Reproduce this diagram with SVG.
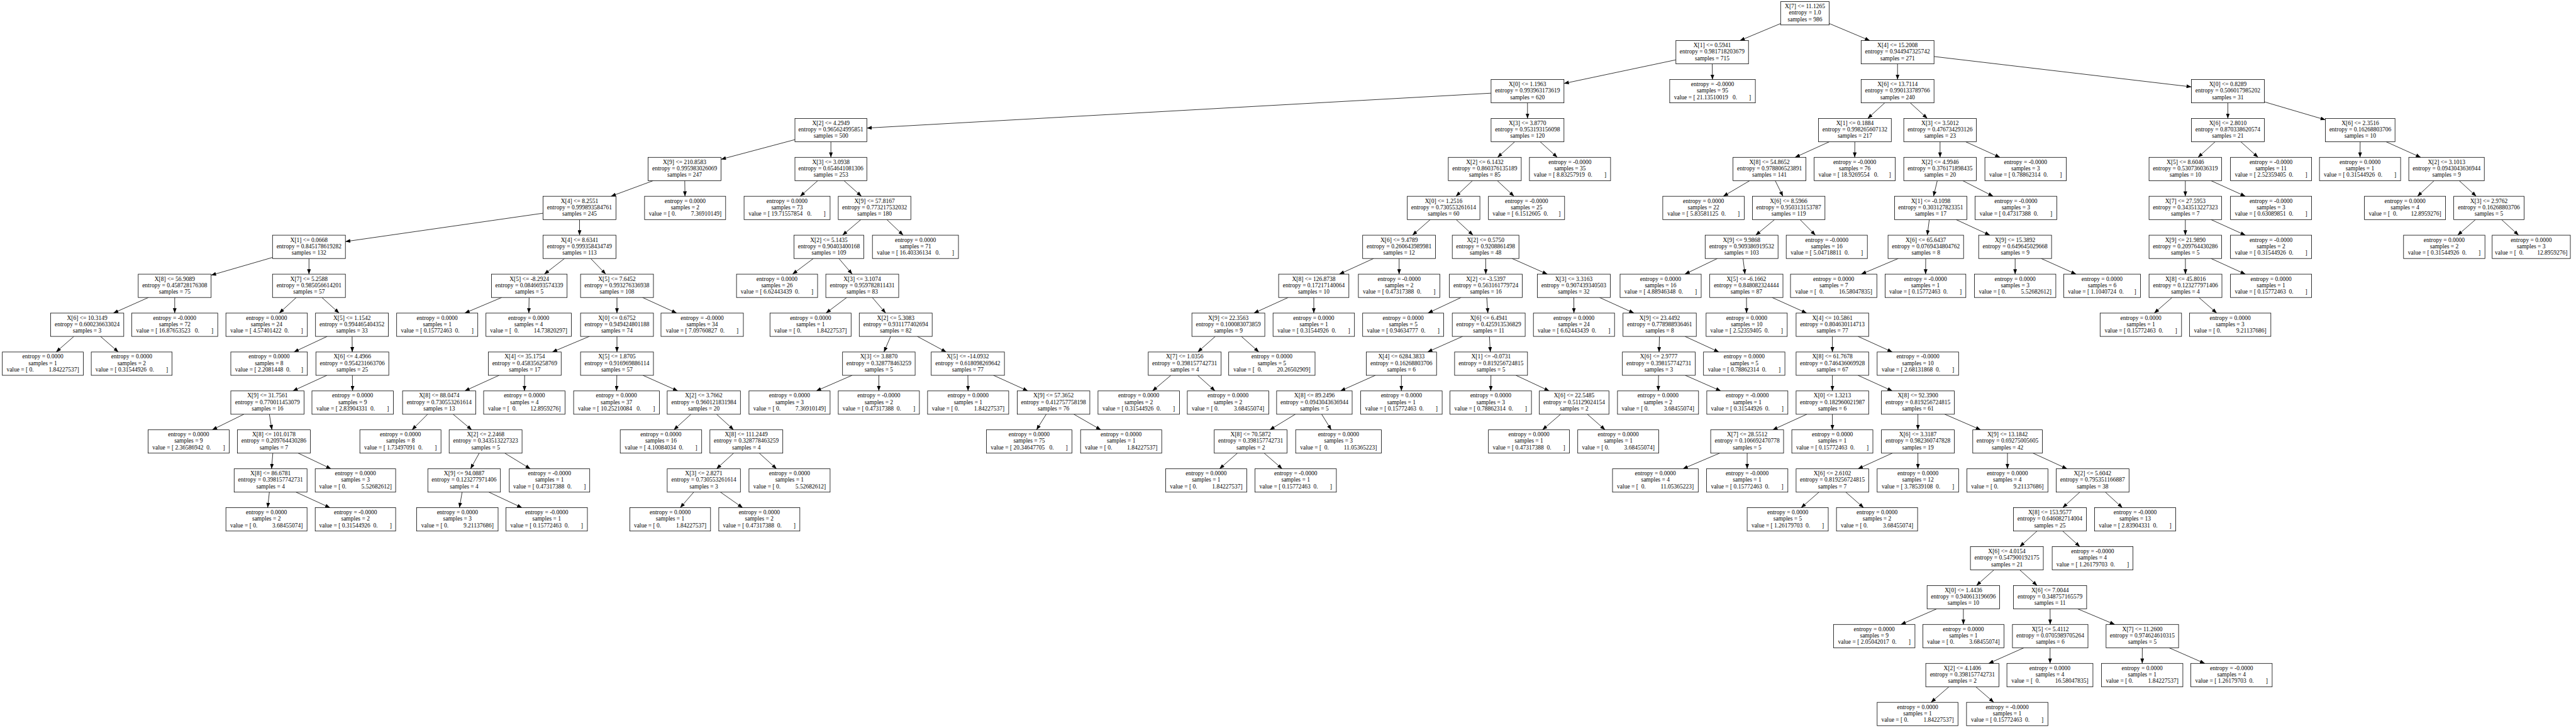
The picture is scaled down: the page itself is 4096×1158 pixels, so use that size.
<svg xmlns="http://www.w3.org/2000/svg" width="4096" height="1158" viewBox="0 0 4096 1158">
<style>
.n rect{fill:#fff;stroke:#000;stroke-width:0.8}
.n text{font-family:"Liberation Serif","Times New Roman",serif;font-size:9.5px;text-anchor:middle;white-space:pre;fill:#000}
#edges path{fill:none;stroke:#000;stroke-width:0.8;marker-end:url(#ah)}
</style>
<defs><marker id="ah" markerUnits="userSpaceOnUse" markerWidth="8" markerHeight="6" viewBox="0 0 7.8 6" refX="7.8" refY="3" orient="auto"><path d="M0,0L7.8,3L0,6z" fill="#000"/></marker></defs>
<rect width="4096" height="1158" fill="#fff"/>
<g id="edges">
<path d="M2831.4,37.4L2766.6,64.5"/><path d="M2908.6,37.4L2973.1,64.5"/>
<path d="M2664.8,95.2L2486.8,132.8"/><path d="M2722.6,101.6L2722.9,126.5"/><path d="M3017.2,101.6L3017.2,126.5"/><path d="M3075.2,89.9L3484.5,138.2"/>
<path d="M2370.9,148.2L1378.3,203.7"/><path d="M2428.8,163.6L2428.8,188.4"/><path d="M2996.9,163.6L2969.7,188.4"/><path d="M3037.4,163.6L3064.6,188.4"/><path d="M3542.4,163.6L3542.4,188.4"/><path d="M3600.4,162.0L3697.5,190.6"/>
<path d="M1264.0,222.1L1146.5,253.4"/><path d="M1321.2,225.5L1321.2,250.3"/><path d="M2408.5,225.5L2381.2,250.3"/><path d="M2449.0,225.5L2476.2,250.3"/><path d="M2908.8,225.5L2854.2,250.3"/><path d="M2949.3,225.5L2949.1,250.3"/><path d="M3084.8,225.5L3084.8,250.3"/><path d="M3125.5,225.5L3180.1,250.3"/><path d="M3522.2,225.5L3495.0,250.3"/><path d="M3563.0,225.5L3590.5,250.3"/><path d="M3752.8,225.5L3752.6,250.3"/><path d="M3794.0,225.5L3849.1,250.3"/>
<path d="M1038.6,287.4L971.5,312.2"/><path d="M1088.8,287.4L1089.2,312.2"/><path d="M1300.3,287.4L1272.4,312.2"/><path d="M1342.0,287.4L1369.8,312.2"/><path d="M2341.3,287.4L2315.0,312.2"/><path d="M2380.8,287.4L2407.4,312.2"/><path d="M2782.2,287.4L2740.1,312.2"/><path d="M2822.7,287.4L2835.0,312.2"/><path d="M3080.4,287.4L3074.4,312.2"/><path d="M3120.9,287.4L3169.3,312.2"/><path d="M3474.8,287.4L3474.8,312.2"/><path d="M3515.6,287.4L3570.3,312.2"/><path d="M3870.4,287.4L3843.9,312.2"/><path d="M3910.3,287.4L3937.4,312.2"/>
<path d="M863.6,339.1L549.2,384.3"/><path d="M921.5,349.3L921.5,374.1"/><path d="M1368.9,349.3L1339.7,374.1"/><path d="M1410.1,349.3L1436.1,374.1"/><path d="M2274.2,349.3L2245.9,374.1"/><path d="M2315.4,349.3L2342.2,374.1"/><path d="M2821.7,349.3L2791.7,374.1"/><path d="M2862.2,349.3L2886.6,374.1"/><path d="M3067.7,349.3L3064.5,374.1"/><path d="M3110.2,349.3L3164.0,374.1"/><path d="M3474.8,349.3L3474.8,374.1"/><path d="M3515.6,349.3L3570.3,374.1"/><path d="M3936.2,349.3L3907.8,374.1"/><path d="M3977.6,349.3L4004.7,374.1"/>
<path d="M433.3,409.5L335.7,437.8"/><path d="M491.3,411.2L491.3,436.1"/><path d="M897.6,411.2L865.5,436.1"/><path d="M939.3,411.2L963.2,436.1"/><path d="M1293.3,411.2L1260.2,436.1"/><path d="M1333.9,411.2L1355.1,436.1"/><path d="M2184.1,411.2L2129.6,436.1"/><path d="M2224.7,411.2L2224.7,436.1"/><path d="M2362.3,411.2L2362.5,436.1"/><path d="M2404.2,411.2L2460.4,436.1"/><path d="M2730.8,411.2L2679.0,436.1"/><path d="M2771.5,411.2L2774.6,436.1"/><path d="M3018.4,411.2L2959.5,436.1"/><path d="M3062.0,411.2L3061.8,436.1"/><path d="M3204.2,411.2L3204.2,436.1"/><path d="M3245.6,411.2L3301.1,436.1"/><path d="M3474.9,411.2L3475.0,436.1"/><path d="M3515.6,411.2L3570.3,436.1"/>
<path d="M236.1,473.2L180.3,498.0"/><path d="M277.8,473.2L277.8,498.0"/><path d="M471.1,473.2L444.1,498.0"/><path d="M511.8,473.2L539.2,498.0"/><path d="M797.8,473.2L739.0,498.0"/><path d="M841.3,473.2L840.9,498.0"/><path d="M981.0,473.2L981.0,498.0"/><path d="M1021.6,473.2L1075.9,498.0"/><path d="M1346.4,473.2L1313.4,498.0"/><path d="M1387.0,473.2L1408.3,498.0"/><path d="M2048.4,473.2L1993.8,498.0"/><path d="M2089.0,473.2L2089.0,498.0"/><path d="M2323.3,473.2L2270.5,498.0"/><path d="M2364.0,473.2L2365.8,498.0"/><path d="M2502.5,473.2L2502.6,498.0"/><path d="M2543.3,473.2L2598.1,498.0"/><path d="M2777.0,473.2L2777.2,498.0"/><path d="M2817.7,473.2L2872.7,498.0"/><path d="M3453.8,473.2L3425.4,498.0"/><path d="M3496.4,473.2L3524.8,498.0"/>
<path d="M117.5,535.1L89.2,559.9"/><path d="M159.8,535.1L188.2,559.9"/><path d="M520.3,535.1L467.3,559.9"/><path d="M559.9,535.1L560.1,559.9"/><path d="M937.1,535.1L878.2,559.9"/><path d="M981.0,535.1L981.0,559.9"/><path d="M1416.2,535.1L1405.5,559.9"/><path d="M1458.6,535.1L1504.6,559.9"/><path d="M1932.4,535.1L1904.5,559.9"/><path d="M1973.9,535.1L2001.7,559.9"/><path d="M2325.6,535.1L2269.9,559.9"/><path d="M2368.3,535.1L2369.7,559.9"/><path d="M2638.6,535.1L2638.0,559.9"/><path d="M2679.2,535.1L2733.2,559.9"/><path d="M2913.6,535.1L2913.6,559.9"/><path d="M2954.3,535.1L3008.9,559.9"/>
<path d="M519.8,597.0L465.7,621.8"/><path d="M560.3,597.0L560.6,621.8"/><path d="M793.6,597.0L739.0,621.8"/><path d="M834.2,597.0L833.9,621.8"/><path d="M980.8,597.0L980.4,621.8"/><path d="M1022.3,597.0L1077.8,621.8"/><path d="M1354.9,597.0L1297.9,621.8"/><path d="M1397.4,597.0L1397.4,621.8"/><path d="M1539.0,597.0L1539.3,621.8"/><path d="M1579.7,597.0L1634.4,621.8"/><path d="M1861.8,597.0L1832.5,621.8"/><path d="M1904.3,597.0L1932.0,621.8"/><path d="M2186.9,597.0L2131.4,621.8"/><path d="M2228.3,597.0L2228.3,621.8"/><path d="M2370.7,597.0L2370.4,621.8"/><path d="M2410.4,597.0L2463.4,621.8"/><path d="M2637.2,597.0L2636.7,621.8"/><path d="M2679.7,597.0L2736.2,621.8"/><path d="M2913.6,597.0L2913.6,621.8"/><path d="M2954.3,597.0L3008.9,621.8"/>
<path d="M387.8,658.9L337.4,683.7"/><path d="M428.3,658.9L432.4,683.7"/><path d="M679.9,658.9L655.1,683.7"/><path d="M720.4,658.9L750.1,683.7"/><path d="M1098.7,658.9L1071.4,683.7"/><path d="M1139.3,658.9L1166.5,683.7"/><path d="M1663.6,658.9L1648.1,683.7"/><path d="M1707.4,658.9L1750.5,683.7"/><path d="M2059.7,658.9L2019.0,683.7"/><path d="M2101.5,658.9L2116.8,683.7"/><path d="M2481.5,658.9L2452.6,683.7"/><path d="M2524.0,658.9L2552.2,683.7"/><path d="M2873.0,658.9L2818.7,683.7"/><path d="M2913.6,658.9L2913.6,683.7"/><path d="M3049.6,658.9L3049.6,683.7"/><path d="M3092.2,658.9L3149.5,683.7"/>
<path d="M433.8,720.8L431.8,745.7"/><path d="M474.2,720.8L526.4,745.7"/><path d="M762.0,720.8L748.2,745.7"/><path d="M802.6,720.8L843.3,745.7"/><path d="M1166.5,720.8L1139.3,745.7"/><path d="M1207.3,720.8L1234.8,745.7"/><path d="M1967.5,720.8L1939.1,745.7"/><path d="M2010.1,720.8L2038.8,745.7"/><path d="M2734.4,720.8L2675.9,745.7"/><path d="M2778.1,720.8L2778.1,745.7"/><path d="M3008.9,720.8L2954.3,745.7"/><path d="M3049.6,720.8L3049.6,745.7"/><path d="M3192.0,720.8L3191.9,745.7"/><path d="M3232.6,720.8L3286.8,745.7"/>
<path d="M428.3,782.8L425.6,807.6"/><path d="M470.6,782.8L524.8,807.6"/><path d="M734.8,782.8L730.5,807.6"/><path d="M777.3,782.8L830.0,807.6"/><path d="M1103.1,782.8L1081.6,807.6"/><path d="M1145.5,782.8L1180.9,807.6"/><path d="M2892.3,782.8L2863.9,807.6"/><path d="M2934.9,782.8L2963.3,807.6"/><path d="M3307.0,782.8L3279.8,807.6"/><path d="M3347.6,782.8L3374.7,807.6"/>
<path d="M3239.0,844.7L3211.6,869.5"/><path d="M3279.8,844.7L3307.1,869.5"/>
<path d="M3170.4,906.6L3142.6,931.4"/><path d="M3211.6,906.6L3239.2,931.4"/>
<path d="M3079.5,968.5L3022.6,993.3"/><path d="M3121.9,968.5L3121.9,993.3"/><path d="M3259.8,968.5L3259.9,993.3"/><path d="M3303.6,968.5L3362.6,993.3"/>
<path d="M3218.2,1030.4L3162.1,1055.3"/><path d="M3259.8,1030.4L3259.7,1055.3"/><path d="M3406.4,1030.4L3406.3,1055.3"/><path d="M3448.9,1030.4L3505.8,1055.3"/>
<path d="M3099.0,1092.4L3070.4,1117.2"/><path d="M3141.6,1092.4L3170.3,1117.2"/>
</g>
<g id="nodes" class="n">
<g id="A"><rect x="2831.3" y="2.6" width="77.3" height="37.1"/><text x="2870" y="13.1">X[7] &lt;= 11.1265<tspan x="2870" dy="10.25">entropy = 1.0</tspan><tspan x="2870" dy="10.25">samples = 986</tspan></text></g>
<g id="B"><rect x="2664.8" y="64.5" width="115.4" height="37.1"/><text x="2722.5" y="75">X[1] &lt;= 0.5941<tspan x="2722.5" dy="10.25">entropy = 0.981718203679</tspan><tspan x="2722.5" dy="10.25">samples = 715</tspan></text></g>
<g id="C"><rect x="2959.3" y="64.5" width="115.9" height="37.1"/><text x="3017.2" y="75">X[4] &lt;= 15.2008<tspan x="3017.2" dy="10.25">entropy = 0.944947325742</tspan><tspan x="3017.2" dy="10.25">samples = 271</tspan></text></g>
<g id="D"><rect x="2370.9" y="126.5" width="115.9" height="37.1"/><text x="2428.8" y="137">X[0] &lt;= 1.1963<tspan x="2428.8" dy="10.25">entropy = 0.993963173619</tspan><tspan x="2428.8" dy="10.25">samples = 620</tspan></text></g>
<g id="E"><rect x="2654.9" y="126.5" width="136.2" height="37.1"/><text x="2723" y="137">entropy = -0.0000<tspan x="2723" dy="10.25">samples = 95</tspan><tspan x="2723" dy="10.25">value = [ 21.13510019   0.        ]</tspan></text></g>
<g id="F"><rect x="2959.3" y="126.5" width="115.9" height="37.1"/><text x="3017.2" y="137">X[6] &lt;= 13.7114<tspan x="3017.2" dy="10.25">entropy = 0.990133789766</tspan><tspan x="3017.2" dy="10.25">samples = 240</tspan></text></g>
<g id="G"><rect x="3484.5" y="126.5" width="115.9" height="37.1"/><text x="3542.4" y="137">X[0] &lt;= 0.8289<tspan x="3542.4" dy="10.25">entropy = 0.506017985202</tspan><tspan x="3542.4" dy="10.25">samples = 31</tspan></text></g>
<g id="H"><rect x="1264" y="188.4" width="114.3" height="37.1"/><text x="1321.2" y="198.9">X[2] &lt;= 4.2949<tspan x="1321.2" dy="10.25">entropy = 0.965624995851</tspan><tspan x="1321.2" dy="10.25">samples = 500</tspan></text></g>
<g id="I"><rect x="2370.9" y="188.4" width="115.9" height="37.1"/><text x="2428.8" y="198.9">X[3] &lt;= 3.8770<tspan x="2428.8" dy="10.25">entropy = 0.953193156098</tspan><tspan x="2428.8" dy="10.25">samples = 120</tspan></text></g>
<g id="J"><rect x="2891.4" y="188.4" width="115.9" height="37.1"/><text x="2949.4" y="198.9">X[1] &lt;= 0.1884<tspan x="2949.4" dy="10.25">entropy = 0.998265607132</tspan><tspan x="2949.4" dy="10.25">samples = 217</tspan></text></g>
<g id="K"><rect x="3027.1" y="188.4" width="115.4" height="37.1"/><text x="3084.8" y="198.9">X[3] &lt;= 3.5012<tspan x="3084.8" dy="10.25">entropy = 0.476734293126</tspan><tspan x="3084.8" dy="10.25">samples = 23</tspan></text></g>
<g id="L"><rect x="3484.5" y="188.4" width="115.9" height="37.1"/><text x="3542.4" y="198.9">X[6] &lt;= 2.8010<tspan x="3542.4" dy="10.25">entropy = 0.870338620574</tspan><tspan x="3542.4" dy="10.25">samples = 21</tspan></text></g>
<g id="M"><rect x="3697.5" y="188.4" width="110.7" height="37.1"/><text x="3752.9" y="198.9">X[6] &lt;= 2.3516<tspan x="3752.9" dy="10.25">entropy = 0.16268803706</tspan><tspan x="3752.9" dy="10.25">samples = 10</tspan></text></g>
<g id="N"><rect x="1030.6" y="250.3" width="115.9" height="37.1"/><text x="1088.6" y="260.8">X[9] &lt;= 210.8583<tspan x="1088.6" dy="10.25">entropy = 0.995983026069</tspan><tspan x="1088.6" dy="10.25">samples = 247</tspan></text></g>
<g id="O"><rect x="1264" y="250.3" width="114.3" height="37.1"/><text x="1321.2" y="260.8">X[3] &lt;= 3.0938<tspan x="1321.2" dy="10.25">entropy = 0.654641081306</tspan><tspan x="1321.2" dy="10.25">samples = 253</tspan></text></g>
<g id="P"><rect x="2302.9" y="250.3" width="116" height="37.1"/><text x="2360.9" y="260.8">X[2] &lt;= 6.1432<tspan x="2360.9" dy="10.25">entropy = 0.860376135189</tspan><tspan x="2360.9" dy="10.25">samples = 85</tspan></text></g>
<g id="Q"><rect x="2431.9" y="250.3" width="129" height="37.1"/><text x="2496.4" y="260.8">entropy = -0.0000<tspan x="2496.4" dy="10.25">samples = 35</tspan><tspan x="2496.4" dy="10.25">value = [ 8.83257919  0.        ]</tspan></text></g>
<g id="R"><rect x="2755.6" y="250.3" width="116" height="37.1"/><text x="2813.6" y="260.8">X[8] &lt;= 54.8652<tspan x="2813.6" dy="10.25">entropy = 0.978806523891</tspan><tspan x="2813.6" dy="10.25">samples = 141</tspan></text></g>
<g id="S"><rect x="2884.6" y="250.3" width="129" height="37.1"/><text x="2949.1" y="260.8">entropy = -0.0000<tspan x="2949.1" dy="10.25">samples = 76</tspan><tspan x="2949.1" dy="10.25">value = [ 18.9269554   0.       ]</tspan></text></g>
<g id="T"><rect x="3027.1" y="250.3" width="115.4" height="37.1"/><text x="3084.8" y="260.8">X[2] &lt;= 4.9946<tspan x="3084.8" dy="10.25">entropy = 0.376171898435</tspan><tspan x="3084.8" dy="10.25">samples = 20</tspan></text></g>
<g id="U"><rect x="3156.1" y="250.3" width="129.5" height="37.1"/><text x="3220.8" y="260.8">entropy = -0.0000<tspan x="3220.8" dy="10.25">samples = 3</tspan><tspan x="3220.8" dy="10.25">value = [ 0.78862314  0.        ]</tspan></text></g>
<g id="V"><rect x="3417.1" y="250.3" width="115.4" height="37.1"/><text x="3474.8" y="260.8">X[5] &lt;= 8.6046<tspan x="3474.8" dy="10.25">entropy = 0.530736036319</tspan><tspan x="3474.8" dy="10.25">samples = 10</tspan></text></g>
<g id="W"><rect x="3546.6" y="250.3" width="129" height="37.1"/><text x="3611.1" y="260.8">entropy = -0.0000<tspan x="3611.1" dy="10.25">samples = 11</tspan><tspan x="3611.1" dy="10.25">value = [ 2.52359405  0.        ]</tspan></text></g>
<g id="X"><rect x="3688.1" y="250.3" width="129" height="37.1"/><text x="3752.6" y="260.8">entropy = 0.0000<tspan x="3752.6" dy="10.25">samples = 1</tspan><tspan x="3752.6" dy="10.25">value = [ 0.31544926  0.        ]</tspan></text></g>
<g id="Y"><rect x="3830.1" y="250.3" width="120.1" height="37.1"/><text x="3890.2" y="260.8">X[2] &lt;= 3.1013<tspan x="3890.2" dy="10.25">entropy = 0.0943043636944</tspan><tspan x="3890.2" dy="10.25">samples = 9</tspan></text></g>
<g id="Z"><rect x="863.6" y="312.2" width="115.9" height="37.1"/><text x="921.5" y="322.7">X[4] &lt;= 8.2551<tspan x="921.5" dy="10.25">entropy = 0.999893584761</tspan><tspan x="921.5" dy="10.25">samples = 245</tspan></text></g>
<g id="AA"><rect x="1024.9" y="312.2" width="128.9" height="37.1"/><text x="1089.4" y="322.7">entropy = 0.0000<tspan x="1089.4" dy="10.25">samples = 2</tspan><tspan x="1089.4" dy="10.25">value = [ 0.          7.36910149]</tspan></text></g>
<g id="AB"><rect x="1183.1" y="312.2" width="136.8" height="37.1"/><text x="1251.5" y="322.7">entropy = 0.0000<tspan x="1251.5" dy="10.25">samples = 73</tspan><tspan x="1251.5" dy="10.25">value = [ 19.71557854   0.        ]</tspan></text></g>
<g id="AC"><rect x="1332.9" y="312.2" width="115.4" height="37.1"/><text x="1390.6" y="322.7">X[9] &lt;= 57.8167<tspan x="1390.6" dy="10.25">entropy = 0.773217532032</tspan><tspan x="1390.6" dy="10.25">samples = 180</tspan></text></g>
<g id="AD"><rect x="2237.7" y="312.2" width="115.4" height="37.1"/><text x="2295.4" y="322.7">X[0] &lt;= 1.2516<tspan x="2295.4" dy="10.25">entropy = 0.730553261614</tspan><tspan x="2295.4" dy="10.25">samples = 60</tspan></text></g>
<g id="AE"><rect x="2366.7" y="312.2" width="121.1" height="37.1"/><text x="2427.3" y="322.7">entropy = -0.0000<tspan x="2427.3" dy="10.25">samples = 25</tspan><tspan x="2427.3" dy="10.25">value = [ 6.1512605  0.       ]</tspan></text></g>
<g id="AF"><rect x="2643.9" y="312.2" width="129.5" height="37.1"/><text x="2708.7" y="322.7">entropy = 0.0000<tspan x="2708.7" dy="10.25">samples = 22</tspan><tspan x="2708.7" dy="10.25">value = [ 5.83581125  0.        ]</tspan></text></g>
<g id="AG"><rect x="2786.4" y="312.2" width="115.4" height="37.1"/><text x="2844.1" y="322.7">X[6] &lt;= 8.5966<tspan x="2844.1" dy="10.25">entropy = 0.950313153787</tspan><tspan x="2844.1" dy="10.25">samples = 119</tspan></text></g>
<g id="AH"><rect x="3012.5" y="312.2" width="114.9" height="37.1"/><text x="3070" y="322.7">X[1] &lt;= -0.1098<tspan x="3070" dy="10.25">entropy = 0.303127823351</tspan><tspan x="3070" dy="10.25">samples = 17</tspan></text></g>
<g id="AI"><rect x="3140.4" y="312.2" width="130" height="37.1"/><text x="3205.4" y="322.7">entropy = -0.0000<tspan x="3205.4" dy="10.25">samples = 3</tspan><tspan x="3205.4" dy="10.25">value = [ 0.47317388  0.        ]</tspan></text></g>
<g id="AJ"><rect x="3417.1" y="312.2" width="115.4" height="37.1"/><text x="3474.8" y="322.7">X[7] &lt;= 27.5953<tspan x="3474.8" dy="10.25">entropy = 0.343513227323</tspan><tspan x="3474.8" dy="10.25">samples = 7</tspan></text></g>
<g id="AK"><rect x="3546.6" y="312.2" width="129" height="37.1"/><text x="3611.1" y="322.7">entropy = -0.0000<tspan x="3611.1" dy="10.25">samples = 3</tspan><tspan x="3611.1" dy="10.25">value = [ 0.63089851  0.        ]</tspan></text></g>
<g id="AL"><rect x="3759.6" y="312.2" width="129" height="37.1"/><text x="3824.1" y="322.7">entropy = 0.0000<tspan x="3824.1" dy="10.25">samples = 4</tspan><tspan x="3824.1" dy="10.25">value = [  0.         12.8959276]</tspan></text></g>
<g id="AM"><rect x="3901.6" y="312.2" width="111.8" height="37.1"/><text x="3957.5" y="322.7">X[3] &lt;= 2.9762<tspan x="3957.5" dy="10.25">entropy = 0.16268803706</tspan><tspan x="3957.5" dy="10.25">samples = 5</tspan></text></g>
<g id="AN"><rect x="433.3" y="374.1" width="115.9" height="37.1"/><text x="491.3" y="384.6">X[1] &lt;= 0.0668<tspan x="491.3" dy="10.25">entropy = 0.845178619282</tspan><tspan x="491.3" dy="10.25">samples = 132</tspan></text></g>
<g id="AO"><rect x="863.6" y="374.1" width="115.9" height="37.1"/><text x="921.5" y="384.6">X[4] &lt;= 8.6341<tspan x="921.5" dy="10.25">entropy = 0.999358434749</tspan><tspan x="921.5" dy="10.25">samples = 113</tspan></text></g>
<g id="AP"><rect x="1262.4" y="374.1" width="111.2" height="37.1"/><text x="1318" y="384.6">X[2] &lt;= 5.1435<tspan x="1318" dy="10.25">entropy = 0.90403400168</tspan><tspan x="1318" dy="10.25">samples = 109</tspan></text></g>
<g id="AQ"><rect x="1387.2" y="374.1" width="136.8" height="37.1"/><text x="1455.6" y="384.6">entropy = 0.0000<tspan x="1455.6" dy="10.25">samples = 71</tspan><tspan x="1455.6" dy="10.25">value = [ 16.40336134   0.        ]</tspan></text></g>
<g id="AR"><rect x="2166.7" y="374.1" width="115.9" height="37.1"/><text x="2224.7" y="384.6">X[6] &lt;= 9.4789<tspan x="2224.7" dy="10.25">entropy = 0.260643989981</tspan><tspan x="2224.7" dy="10.25">samples = 12</tspan></text></g>
<g id="AS"><rect x="2309.2" y="374.1" width="106" height="37.1"/><text x="2362.2" y="384.6">X[2] &lt;= 0.5750<tspan x="2362.2" dy="10.25">entropy = 0.9208861498</tspan><tspan x="2362.2" dy="10.25">samples = 48</tspan></text></g>
<g id="AT"><rect x="2711.3" y="374.1" width="115.9" height="37.1"/><text x="2769.3" y="384.6">X[9] &lt;= 9.9868<tspan x="2769.3" dy="10.25">entropy = 0.909386919532</tspan><tspan x="2769.3" dy="10.25">samples = 103</tspan></text></g>
<g id="AU"><rect x="2840.2" y="374.1" width="129" height="37.1"/><text x="2904.7" y="384.6">entropy = -0.0000<tspan x="2904.7" dy="10.25">samples = 16</tspan><tspan x="2904.7" dy="10.25">value = [ 5.04718811  0.        ]</tspan></text></g>
<g id="AV"><rect x="3002.1" y="374.1" width="120.1" height="37.1"/><text x="3062.2" y="384.6">X[6] &lt;= 65.6437<tspan x="3062.2" dy="10.25">entropy = 0.0769434804762</tspan><tspan x="3062.2" dy="10.25">samples = 8</tspan></text></g>
<g id="AW"><rect x="3146.2" y="374.1" width="115.9" height="37.1"/><text x="3204.2" y="384.6">X[9] &lt;= 15.3892<tspan x="3204.2" dy="10.25">entropy = 0.649645029668</tspan><tspan x="3204.2" dy="10.25">samples = 9</tspan></text></g>
<g id="AX"><rect x="3417.1" y="374.1" width="115.4" height="37.1"/><text x="3474.8" y="384.6">X[9] &lt;= 21.9890<tspan x="3474.8" dy="10.25">entropy = 0.209764430286</tspan><tspan x="3474.8" dy="10.25">samples = 5</tspan></text></g>
<g id="AY"><rect x="3546.6" y="374.1" width="129" height="37.1"/><text x="3611.1" y="384.6">entropy = -0.0000<tspan x="3611.1" dy="10.25">samples = 2</tspan><tspan x="3611.1" dy="10.25">value = [ 0.31544926  0.        ]</tspan></text></g>
<g id="AZ"><rect x="3821.8" y="374.1" width="129.4" height="37.1"/><text x="3886.5" y="384.6">entropy = 0.0000<tspan x="3886.5" dy="10.25">samples = 2</tspan><tspan x="3886.5" dy="10.25">value = [ 0.31544926  0.        ]</tspan></text></g>
<g id="BA"><rect x="3962.7" y="374.1" width="124.3" height="37.1"/><text x="4024.8" y="384.6">entropy = 0.0000<tspan x="4024.8" dy="10.25">samples = 3</tspan><tspan x="4024.8" dy="10.25">value = [  0.         12.8959276]</tspan></text></g>
<g id="BB"><rect x="219.8" y="436.1" width="115.9" height="37.1"/><text x="277.8" y="446.6">X[8] &lt;= 56.9089<tspan x="277.8" dy="10.25">entropy = 0.458728176308</tspan><tspan x="277.8" dy="10.25">samples = 75</tspan></text></g>
<g id="BC"><rect x="433.3" y="436.1" width="115.9" height="37.1"/><text x="491.3" y="446.6">X[7] &lt;= 5.2588<tspan x="491.3" dy="10.25">entropy = 0.985056614201</tspan><tspan x="491.3" dy="10.25">samples = 57</tspan></text></g>
<g id="BD"><rect x="781.6" y="436.1" width="120.1" height="37.1"/><text x="841.6" y="446.6">X[5] &lt;= -8.2924<tspan x="841.6" dy="10.25">entropy = 0.0846693574339</tspan><tspan x="841.6" dy="10.25">samples = 5</tspan></text></g>
<g id="BE"><rect x="923.1" y="436.1" width="115.9" height="37.1"/><text x="981" y="446.6">X[5] &lt;= 7.6452<tspan x="981" dy="10.25">entropy = 0.993276336938</tspan><tspan x="981" dy="10.25">samples = 108</tspan></text></g>
<g id="BF"><rect x="1171.1" y="436.1" width="128.9" height="37.1"/><text x="1235.5" y="446.6">entropy = 0.0000<tspan x="1235.5" dy="10.25">samples = 26</tspan><tspan x="1235.5" dy="10.25">value = [ 6.62443439  0.        ]</tspan></text></g>
<g id="BG"><rect x="1313.1" y="436.1" width="115.9" height="37.1"/><text x="1371" y="446.6">X[3] &lt;= 3.1074<tspan x="1371" dy="10.25">entropy = 0.959782811431</tspan><tspan x="1371" dy="10.25">samples = 83</tspan></text></g>
<g id="BH"><rect x="2033.1" y="436.1" width="111.7" height="37.1"/><text x="2089" y="446.6">X[8] &lt;= 126.8738<tspan x="2089" dy="10.25">entropy = 0.17217140064</tspan><tspan x="2089" dy="10.25">samples = 10</tspan></text></g>
<g id="BI"><rect x="2159.9" y="436.1" width="129.5" height="37.1"/><text x="2224.7" y="446.6">entropy = -0.0000<tspan x="2224.7" dy="10.25">samples = 2</tspan><tspan x="2224.7" dy="10.25">value = [ 0.47317388  0.        ]</tspan></text></g>
<g id="BJ"><rect x="2304.6" y="436.1" width="115.9" height="37.1"/><text x="2362.6" y="446.6">X[2] &lt;= -3.5397<tspan x="2362.6" dy="10.25">entropy = 0.563161779724</tspan><tspan x="2362.6" dy="10.25">samples = 16</tspan></text></g>
<g id="BK"><rect x="2444.5" y="436.1" width="115.9" height="37.1"/><text x="2502.4" y="446.6">X[3] &lt;= 3.3163<tspan x="2502.4" dy="10.25">entropy = 0.907439340503</tspan><tspan x="2502.4" dy="10.25">samples = 32</tspan></text></g>
<g id="BL"><rect x="2576" y="436.1" width="129" height="37.1"/><text x="2640.5" y="446.6">entropy = 0.0000<tspan x="2640.5" dy="10.25">samples = 16</tspan><tspan x="2640.5" dy="10.25">value = [ 4.88946348  0.        ]</tspan></text></g>
<g id="BM"><rect x="2718.6" y="436.1" width="116.4" height="37.1"/><text x="2776.8" y="446.6">X[5] &lt;= -6.1662<tspan x="2776.8" dy="10.25">entropy = 0.848082324444</tspan><tspan x="2776.8" dy="10.25">samples = 87</tspan></text></g>
<g id="BN"><rect x="2847" y="436.1" width="137.3" height="37.1"/><text x="2915.7" y="446.6">entropy = 0.0000<tspan x="2915.7" dy="10.25">samples = 7</tspan><tspan x="2915.7" dy="10.25">value = [  0.          16.58047835]</tspan></text></g>
<g id="BO"><rect x="2997.4" y="436.1" width="128.4" height="37.1"/><text x="3061.6" y="446.6">entropy = -0.0000<tspan x="3061.6" dy="10.25">samples = 1</tspan><tspan x="3061.6" dy="10.25">value = [ 0.15772463  0.        ]</tspan></text></g>
<g id="BP"><rect x="3139.4" y="436.1" width="129.5" height="37.1"/><text x="3204.2" y="446.6">entropy = 0.0000<tspan x="3204.2" dy="10.25">samples = 3</tspan><tspan x="3204.2" dy="10.25">value = [ 0.          5.52682612]</tspan></text></g>
<g id="BQ"><rect x="3281.4" y="436.1" width="122.2" height="37.1"/><text x="3342.5" y="446.6">entropy = 0.0000<tspan x="3342.5" dy="10.25">samples = 6</tspan><tspan x="3342.5" dy="10.25">value = [ 1.1040724  0.       ]</tspan></text></g>
<g id="BR"><rect x="3417.1" y="436.1" width="115.9" height="37.1"/><text x="3475.1" y="446.6">X[8] &lt;= 45.8016<tspan x="3475.1" dy="10.25">entropy = 0.123277971406</tspan><tspan x="3475.1" dy="10.25">samples = 4</tspan></text></g>
<g id="BS"><rect x="3546.6" y="436.1" width="129" height="37.1"/><text x="3611.1" y="446.6">entropy = 0.0000<tspan x="3611.1" dy="10.25">samples = 1</tspan><tspan x="3611.1" dy="10.25">value = [ 0.15772463  0.        ]</tspan></text></g>
<g id="BT"><rect x="80.4" y="498" width="116.4" height="37.1"/><text x="138.6" y="508.5">X[6] &lt;= 10.3149<tspan x="138.6" dy="10.25">entropy = 0.600236633024</tspan><tspan x="138.6" dy="10.25">samples = 3</tspan></text></g>
<g id="BU"><rect x="209.4" y="498" width="136.8" height="37.1"/><text x="277.8" y="508.5">entropy = -0.0000<tspan x="277.8" dy="10.25">samples = 72</tspan><tspan x="277.8" dy="10.25">value = [ 16.87653523   0.        ]</tspan></text></g>
<g id="BV"><rect x="359.2" y="498" width="129.5" height="37.1"/><text x="423.9" y="508.5">entropy = 0.0000<tspan x="423.9" dy="10.25">samples = 24</tspan><tspan x="423.9" dy="10.25">value = [ 4.57401422  0.        ]</tspan></text></g>
<g id="BW"><rect x="501.7" y="498" width="115.9" height="37.1"/><text x="559.7" y="508.5">X[5] &lt;= 1.1542<tspan x="559.7" dy="10.25">entropy = 0.994465404352</tspan><tspan x="559.7" dy="10.25">samples = 33</tspan></text></g>
<g id="BX"><rect x="630.7" y="498" width="129" height="37.1"/><text x="695.2" y="508.5">entropy = 0.0000<tspan x="695.2" dy="10.25">samples = 1</tspan><tspan x="695.2" dy="10.25">value = [ 0.15772463  0.        ]</tspan></text></g>
<g id="BY"><rect x="772.7" y="498" width="135.8" height="37.1"/><text x="840.6" y="508.5">entropy = 0.0000<tspan x="840.6" dy="10.25">samples = 4</tspan><tspan x="840.6" dy="10.25">value = [  0.          14.73820297]</tspan></text></g>
<g id="BZ"><rect x="923.1" y="498" width="115.9" height="37.1"/><text x="981" y="508.5">X[0] &lt;= 0.6752<tspan x="981" dy="10.25">entropy = 0.949424801188</tspan><tspan x="981" dy="10.25">samples = 74</tspan></text></g>
<g id="CA"><rect x="1051" y="498" width="131" height="37.1"/><text x="1116.5" y="508.5">entropy = -0.0000<tspan x="1116.5" dy="10.25">samples = 34</tspan><tspan x="1116.5" dy="10.25">value = [ 7.09760827  0.        ]</tspan></text></g>
<g id="CB"><rect x="1224.3" y="498" width="129" height="37.1"/><text x="1288.8" y="508.5">entropy = 0.0000<tspan x="1288.8" dy="10.25">samples = 1</tspan><tspan x="1288.8" dy="10.25">value = [ 0.          1.84227537]</tspan></text></g>
<g id="CC"><rect x="1366.3" y="498" width="115.9" height="37.1"/><text x="1424.3" y="508.5">X[2] &lt;= 5.3083<tspan x="1424.3" dy="10.25">entropy = 0.931177402694</tspan><tspan x="1424.3" dy="10.25">samples = 82</tspan></text></g>
<g id="CD"><rect x="1895.2" y="498" width="115.9" height="37.1"/><text x="1953.2" y="508.5">X[9] &lt;= 22.3563<tspan x="1953.2" dy="10.25">entropy = 0.100083073859</tspan><tspan x="1953.2" dy="10.25">samples = 9</tspan></text></g>
<g id="CE"><rect x="2024.2" y="498" width="129.5" height="37.1"/><text x="2089" y="508.5">entropy = 0.0000<tspan x="2089" dy="10.25">samples = 1</tspan><tspan x="2089" dy="10.25">value = [ 0.31544926  0.        ]</tspan></text></g>
<g id="CF"><rect x="2166.7" y="498" width="128.9" height="37.1"/><text x="2231.2" y="508.5">entropy = 0.0000<tspan x="2231.2" dy="10.25">samples = 5</tspan><tspan x="2231.2" dy="10.25">value = [ 0.94634777  0.        ]</tspan></text></g>
<g id="CG"><rect x="2309.2" y="498" width="115.9" height="37.1"/><text x="2367.2" y="508.5">X[6] &lt;= 6.4941<tspan x="2367.2" dy="10.25">entropy = 0.425913536829</tspan><tspan x="2367.2" dy="10.25">samples = 11</tspan></text></g>
<g id="CH"><rect x="2438.2" y="498" width="129" height="37.1"/><text x="2502.7" y="508.5">entropy = 0.0000<tspan x="2502.7" dy="10.25">samples = 24</tspan><tspan x="2502.7" dy="10.25">value = [ 6.62443439  0.        ]</tspan></text></g>
<g id="CI"><rect x="2580.7" y="498" width="116.5" height="37.1"/><text x="2639" y="508.5">X[9] &lt;= 23.4492<tspan x="2639" dy="10.25">entropy = 0.778988936461</tspan><tspan x="2639" dy="10.25">samples = 8</tspan></text></g>
<g id="CJ"><rect x="2712.8" y="498" width="129" height="37.1"/><text x="2777.3" y="508.5">entropy = 0.0000<tspan x="2777.3" dy="10.25">samples = 10</tspan><tspan x="2777.3" dy="10.25">value = [ 2.52359405  0.        ]</tspan></text></g>
<g id="CK"><rect x="2855.9" y="498" width="115.4" height="37.1"/><text x="2913.6" y="508.5">X[4] &lt;= 10.5861<tspan x="2913.6" dy="10.25">entropy = 0.804630114713</tspan><tspan x="2913.6" dy="10.25">samples = 77</tspan></text></g>
<g id="CL"><rect x="3339.3" y="498" width="129.5" height="37.1"/><text x="3404.1" y="508.5">entropy = 0.0000<tspan x="3404.1" dy="10.25">samples = 1</tspan><tspan x="3404.1" dy="10.25">value = [ 0.15772463  0.        ]</tspan></text></g>
<g id="CM"><rect x="3481.4" y="498" width="129.4" height="37.1"/><text x="3546.1" y="508.5">entropy = 0.0000<tspan x="3546.1" dy="10.25">samples = 3</tspan><tspan x="3546.1" dy="10.25">value = [ 0.          9.21137686]</tspan></text></g>
<g id="CN"><rect x="3.7" y="559.9" width="128.9" height="37.1"/><text x="68.1" y="570.4">entropy = 0.0000<tspan x="68.1" dy="10.25">samples = 1</tspan><tspan x="68.1" dy="10.25">value = [ 0.          1.84227537]</tspan></text></g>
<g id="CO"><rect x="145.1" y="559.9" width="128.5" height="37.1"/><text x="209.4" y="570.4">entropy = 0.0000<tspan x="209.4" dy="10.25">samples = 2</tspan><tspan x="209.4" dy="10.25">value = [ 0.31544926  0.        ]</tspan></text></g>
<g id="CP"><rect x="367" y="559.9" width="121.7" height="37.1"/><text x="427.9" y="570.4">entropy = 0.0000<tspan x="427.9" dy="10.25">samples = 8</tspan><tspan x="427.9" dy="10.25">value = [ 2.2081448  0.       ]</tspan></text></g>
<g id="CQ"><rect x="502.3" y="559.9" width="115.9" height="37.1"/><text x="560.2" y="570.4">X[6] &lt;= 4.4966<tspan x="560.2" dy="10.25">entropy = 0.954231663706</tspan><tspan x="560.2" dy="10.25">samples = 25</tspan></text></g>
<g id="CR"><rect x="776.4" y="559.9" width="115.9" height="37.1"/><text x="834.3" y="570.4">X[4] &lt;= 35.1754<tspan x="834.3" dy="10.25">entropy = 0.458356258769</tspan><tspan x="834.3" dy="10.25">samples = 17</tspan></text></g>
<g id="CS"><rect x="923.1" y="559.9" width="115.9" height="37.1"/><text x="981" y="570.4">X[5] &lt;= 1.8705<tspan x="981" dy="10.25">entropy = 0.916969886114</tspan><tspan x="981" dy="10.25">samples = 57</tspan></text></g>
<g id="CT"><rect x="1339.7" y="559.9" width="115.4" height="37.1"/><text x="1397.4" y="570.4">X[3] &lt;= 3.8870<tspan x="1397.4" dy="10.25">entropy = 0.328778463259</tspan><tspan x="1397.4" dy="10.25">samples = 5</tspan></text></g>
<g id="CU"><rect x="1480.7" y="559.9" width="116.4" height="37.1"/><text x="1538.9" y="570.4">X[5] &lt;= -14.0932<tspan x="1538.9" dy="10.25">entropy = 0.618098269642</tspan><tspan x="1538.9" dy="10.25">samples = 77</tspan></text></g>
<g id="CV"><rect x="1825.8" y="559.9" width="115.9" height="37.1"/><text x="1883.7" y="570.4">X[7] &lt;= 1.0356<tspan x="1883.7" dy="10.25">entropy = 0.398157742731</tspan><tspan x="1883.7" dy="10.25">samples = 4</tspan></text></g>
<g id="CW"><rect x="1953.7" y="559.9" width="137.3" height="37.1"/><text x="2022.4" y="570.4">entropy = 0.0000<tspan x="2022.4" dy="10.25">samples = 5</tspan><tspan x="2022.4" dy="10.25">value = [  0.          20.26502909]</tspan></text></g>
<g id="CX"><rect x="2172.5" y="559.9" width="111.7" height="37.1"/><text x="2228.3" y="570.4">X[4] &lt;= 6284.3833<tspan x="2228.3" dy="10.25">entropy = 0.16268803706</tspan><tspan x="2228.3" dy="10.25">samples = 6</tspan></text></g>
<g id="CY"><rect x="2312.9" y="559.9" width="115.9" height="37.1"/><text x="2370.8" y="570.4">X[1] &lt;= -0.0731<tspan x="2370.8" dy="10.25">entropy = 0.819256724815</tspan><tspan x="2370.8" dy="10.25">samples = 5</tspan></text></g>
<g id="CZ"><rect x="2579.7" y="559.9" width="115.9" height="37.1"/><text x="2637.6" y="570.4">X[6] &lt;= 2.9777<tspan x="2637.6" dy="10.25">entropy = 0.398157742731</tspan><tspan x="2637.6" dy="10.25">samples = 3</tspan></text></g>
<g id="DA"><rect x="2708.7" y="559.9" width="129.4" height="37.1"/><text x="2773.4" y="570.4">entropy = 0.0000<tspan x="2773.4" dy="10.25">samples = 5</tspan><tspan x="2773.4" dy="10.25">value = [ 0.78862314  0.        ]</tspan></text></g>
<g id="DB"><rect x="2855.9" y="559.9" width="115.4" height="37.1"/><text x="2913.6" y="570.4">X[8] &lt;= 61.7678<tspan x="2913.6" dy="10.25">entropy = 0.746436069928</tspan><tspan x="2913.6" dy="10.25">samples = 67</tspan></text></g>
<g id="DC"><rect x="2984.8" y="559.9" width="129.5" height="37.1"/><text x="3049.6" y="570.4">entropy = -0.0000<tspan x="3049.6" dy="10.25">samples = 10</tspan><tspan x="3049.6" dy="10.25">value = [ 2.68131868  0.        ]</tspan></text></g>
<g id="DD"><rect x="367" y="621.8" width="116.5" height="37.1"/><text x="425.3" y="632.3">X[9] &lt;= 31.7561<tspan x="425.3" dy="10.25">entropy = 0.770011453079</tspan><tspan x="425.3" dy="10.25">samples = 16</tspan></text></g>
<g id="DE"><rect x="496" y="621.8" width="129.5" height="37.1"/><text x="560.7" y="632.3">entropy = 0.0000<tspan x="560.7" dy="10.25">samples = 9</tspan><tspan x="560.7" dy="10.25">value = [ 2.83904331  0.        ]</tspan></text></g>
<g id="DF"><rect x="640.1" y="621.8" width="116.4" height="37.1"/><text x="698.3" y="632.3">X[8] &lt;= 88.0474<tspan x="698.3" dy="10.25">entropy = 0.730553261614</tspan><tspan x="698.3" dy="10.25">samples = 13</tspan></text></g>
<g id="DG"><rect x="769" y="621.8" width="129.5" height="37.1"/><text x="833.8" y="632.3">entropy = 0.0000<tspan x="833.8" dy="10.25">samples = 4</tspan><tspan x="833.8" dy="10.25">value = [  0.         12.8959276]</tspan></text></g>
<g id="DH"><rect x="912.1" y="621.8" width="136.3" height="37.1"/><text x="980.2" y="632.3">entropy = 0.0000<tspan x="980.2" dy="10.25">samples = 37</tspan><tspan x="980.2" dy="10.25">value = [ 10.25210084   0.        ]</tspan></text></g>
<g id="DI"><rect x="1060.9" y="621.8" width="116.4" height="37.1"/><text x="1119.1" y="632.3">X[2] &lt;= 3.7662<tspan x="1119.1" dy="10.25">entropy = 0.960121831984</tspan><tspan x="1119.1" dy="10.25">samples = 20</tspan></text></g>
<g id="DJ"><rect x="1190.9" y="621.8" width="129" height="37.1"/><text x="1255.4" y="632.3">entropy = 0.0000<tspan x="1255.4" dy="10.25">samples = 3</tspan><tspan x="1255.4" dy="10.25">value = [ 0.          7.36910149]</tspan></text></g>
<g id="DK"><rect x="1332.9" y="621.8" width="129" height="37.1"/><text x="1397.4" y="632.3">entropy = -0.0000<tspan x="1397.4" dy="10.25">samples = 2</tspan><tspan x="1397.4" dy="10.25">value = [ 0.47317388  0.        ]</tspan></text></g>
<g id="DL"><rect x="1474.9" y="621.8" width="129" height="37.1"/><text x="1539.4" y="632.3">entropy = 0.0000<tspan x="1539.4" dy="10.25">samples = 1</tspan><tspan x="1539.4" dy="10.25">value = [ 0.          1.84227537]</tspan></text></g>
<g id="DM"><rect x="1617.5" y="621.8" width="115.4" height="37.1"/><text x="1675.2" y="632.3">X[9] &lt;= 57.3652<tspan x="1675.2" dy="10.25">entropy = 0.412757758198</tspan><tspan x="1675.2" dy="10.25">samples = 76</tspan></text></g>
<g id="DN"><rect x="1745.9" y="621.8" width="129.5" height="37.1"/><text x="1810.6" y="632.3">entropy = 0.0000<tspan x="1810.6" dy="10.25">samples = 2</tspan><tspan x="1810.6" dy="10.25">value = [ 0.31544926  0.        ]</tspan></text></g>
<g id="DO"><rect x="1887.9" y="621.8" width="129.5" height="37.1"/><text x="1952.6" y="632.3">entropy = 0.0000<tspan x="1952.6" dy="10.25">samples = 2</tspan><tspan x="1952.6" dy="10.25">value = [ 0.          3.68455074]</tspan></text></g>
<g id="DP"><rect x="2029.9" y="621.8" width="120.1" height="37.1"/><text x="2090" y="632.3">X[8] &lt;= 89.2496<tspan x="2090" dy="10.25">entropy = 0.0943043636944</tspan><tspan x="2090" dy="10.25">samples = 5</tspan></text></g>
<g id="DQ"><rect x="2163.6" y="621.8" width="129.5" height="37.1"/><text x="2228.3" y="632.3">entropy = 0.0000<tspan x="2228.3" dy="10.25">samples = 1</tspan><tspan x="2228.3" dy="10.25">value = [ 0.15772463  0.        ]</tspan></text></g>
<g id="DR"><rect x="2305.6" y="621.8" width="129.5" height="37.1"/><text x="2370.3" y="632.3">entropy = 0.0000<tspan x="2370.3" dy="10.25">samples = 3</tspan><tspan x="2370.3" dy="10.25">value = [ 0.78862314  0.        ]</tspan></text></g>
<g id="DS"><rect x="2447.6" y="621.8" width="110.7" height="37.1"/><text x="2503" y="632.3">X[6] &lt;= 22.5485<tspan x="2503" dy="10.25">entropy = 0.51129024154</tspan><tspan x="2503" dy="10.25">samples = 2</tspan></text></g>
<g id="DT"><rect x="2571.9" y="621.8" width="128.9" height="37.1"/><text x="2636.3" y="632.3">entropy = 0.0000<tspan x="2636.3" dy="10.25">samples = 2</tspan><tspan x="2636.3" dy="10.25">value = [ 0.          3.68455074]</tspan></text></g>
<g id="DU"><rect x="2713.9" y="621.8" width="128.9" height="37.1"/><text x="2778.3" y="632.3">entropy = -0.0000<tspan x="2778.3" dy="10.25">samples = 1</tspan><tspan x="2778.3" dy="10.25">value = [ 0.31544926  0.        ]</tspan></text></g>
<g id="DV"><rect x="2855.9" y="621.8" width="115.4" height="37.1"/><text x="2913.6" y="632.3">X[0] &lt;= 1.3213<tspan x="2913.6" dy="10.25">entropy = 0.182960021987</tspan><tspan x="2913.6" dy="10.25">samples = 6</tspan></text></g>
<g id="DW"><rect x="2991.6" y="621.8" width="115.9" height="37.1"/><text x="3049.6" y="632.3">X[8] &lt;= 92.3900<tspan x="3049.6" dy="10.25">entropy = 0.819256724815</tspan><tspan x="3049.6" dy="10.25">samples = 61</tspan></text></g>
<g id="DX"><rect x="235.5" y="683.7" width="128.9" height="37.1"/><text x="299.9" y="694.2">entropy = 0.0000<tspan x="299.9" dy="10.25">samples = 9</tspan><tspan x="299.9" dy="10.25">value = [ 2.36586942  0.        ]</tspan></text></g>
<g id="DY"><rect x="377.5" y="683.7" width="115.9" height="37.1"/><text x="435.4" y="694.2">X[8] &lt;= 101.0178<tspan x="435.4" dy="10.25">entropy = 0.209764430286</tspan><tspan x="435.4" dy="10.25">samples = 7</tspan></text></g>
<g id="DZ"><rect x="572.2" y="683.7" width="129" height="37.1"/><text x="636.7" y="694.2">entropy = 0.0000<tspan x="636.7" dy="10.25">samples = 8</tspan><tspan x="636.7" dy="10.25">value = [ 1.73497091  0.        ]</tspan></text></g>
<g id="EA"><rect x="714.2" y="683.7" width="115.9" height="37.1"/><text x="772.2" y="694.2">X[2] &lt;= 2.2468<tspan x="772.2" dy="10.25">entropy = 0.343513227323</tspan><tspan x="772.2" dy="10.25">samples = 5</tspan></text></g>
<g id="EB"><rect x="986.2" y="683.7" width="129.5" height="37.1"/><text x="1051" y="694.2">entropy = 0.0000<tspan x="1051" dy="10.25">samples = 16</tspan><tspan x="1051" dy="10.25">value = [ 4.10084034  0.        ]</tspan></text></g>
<g id="EC"><rect x="1128.8" y="683.7" width="115.9" height="37.1"/><text x="1186.7" y="694.2">X[8] &lt;= 111.2449<tspan x="1186.7" dy="10.25">entropy = 0.328778463259</tspan><tspan x="1186.7" dy="10.25">samples = 4</tspan></text></g>
<g id="ED"><rect x="1568.4" y="683.7" width="136.2" height="37.1"/><text x="1636.5" y="694.2">entropy = 0.0000<tspan x="1636.5" dy="10.25">samples = 75</tspan><tspan x="1636.5" dy="10.25">value = [ 20.34647705   0.        ]</tspan></text></g>
<g id="EE"><rect x="1718.2" y="683.7" width="129" height="37.1"/><text x="1782.7" y="694.2">entropy = 0.0000<tspan x="1782.7" dy="10.25">samples = 1</tspan><tspan x="1782.7" dy="10.25">value = [ 0.          1.84227537]</tspan></text></g>
<g id="EF"><rect x="1930.7" y="683.7" width="115.9" height="37.1"/><text x="1988.7" y="694.2">X[8] &lt;= 70.5872<tspan x="1988.7" dy="10.25">entropy = 0.398157742731</tspan><tspan x="1988.7" dy="10.25">samples = 2</tspan></text></g>
<g id="EG"><rect x="2060.2" y="683.7" width="136.3" height="37.1"/><text x="2128.3" y="694.2">entropy = 0.0000<tspan x="2128.3" dy="10.25">samples = 3</tspan><tspan x="2128.3" dy="10.25">value = [  0.          11.05365223]</tspan></text></g>
<g id="EH"><rect x="2366.7" y="683.7" width="128.9" height="37.1"/><text x="2431.1" y="694.2">entropy = 0.0000<tspan x="2431.1" dy="10.25">samples = 1</tspan><tspan x="2431.1" dy="10.25">value = [ 0.47317388  0.        ]</tspan></text></g>
<g id="EI"><rect x="2508.7" y="683.7" width="128.9" height="37.1"/><text x="2573.2" y="694.2">entropy = 0.0000<tspan x="2573.2" dy="10.25">samples = 1</tspan><tspan x="2573.2" dy="10.25">value = [ 0.          3.68455074]</tspan></text></g>
<g id="EJ"><rect x="2720.1" y="683.7" width="115.9" height="37.1"/><text x="2778.1" y="694.2">X[7] &lt;= 28.5512<tspan x="2778.1" dy="10.25">entropy = 0.106692470778</tspan><tspan x="2778.1" dy="10.25">samples = 5</tspan></text></g>
<g id="EK"><rect x="2849.1" y="683.7" width="128.9" height="37.1"/><text x="2913.6" y="694.2">entropy = 0.0000<tspan x="2913.6" dy="10.25">samples = 1</tspan><tspan x="2913.6" dy="10.25">value = [ 0.15772463  0.        ]</tspan></text></g>
<g id="EL"><rect x="2991.6" y="683.7" width="115.9" height="37.1"/><text x="3049.6" y="694.2">X[6] &lt;= 3.3187<tspan x="3049.6" dy="10.25">entropy = 0.982360747828</tspan><tspan x="3049.6" dy="10.25">samples = 19</tspan></text></g>
<g id="EM"><rect x="3136.8" y="683.7" width="110.7" height="37.1"/><text x="3192.1" y="694.2">X[9] &lt;= 13.1842<tspan x="3192.1" dy="10.25">entropy = 0.69275005605</tspan><tspan x="3192.1" dy="10.25">samples = 42</tspan></text></g>
<g id="EN"><rect x="372.3" y="745.7" width="115.9" height="37.1"/><text x="430.2" y="756.2">X[8] &lt;= 86.6781<tspan x="430.2" dy="10.25">entropy = 0.398157742731</tspan><tspan x="430.2" dy="10.25">samples = 4</tspan></text></g>
<g id="EO"><rect x="501.2" y="745.7" width="127.9" height="37.1"/><text x="565.2" y="756.2">entropy = 0.0000<tspan x="565.2" dy="10.25">samples = 3</tspan><tspan x="565.2" dy="10.25">value = [ 0.          5.52682612]</tspan></text></g>
<g id="EP"><rect x="680.3" y="745.7" width="115.4" height="37.1"/><text x="738" y="756.2">X[9] &lt;= 94.0887<tspan x="738" dy="10.25">entropy = 0.123277971406</tspan><tspan x="738" dy="10.25">samples = 4</tspan></text></g>
<g id="EQ"><rect x="809.8" y="745.7" width="127.9" height="37.1"/><text x="873.7" y="756.2">entropy = -0.0000<tspan x="873.7" dy="10.25">samples = 1</tspan><tspan x="873.7" dy="10.25">value = [ 0.47317388  0.        ]</tspan></text></g>
<g id="ER"><rect x="1060.9" y="745.7" width="116.4" height="37.1"/><text x="1119.1" y="756.2">X[3] &lt;= 2.8271<tspan x="1119.1" dy="10.25">entropy = 0.730553261614</tspan><tspan x="1119.1" dy="10.25">samples = 3</tspan></text></g>
<g id="ES"><rect x="1190.9" y="745.7" width="129" height="37.1"/><text x="1255.4" y="756.2">entropy = 0.0000<tspan x="1255.4" dy="10.25">samples = 1</tspan><tspan x="1255.4" dy="10.25">value = [ 0.          5.52682612]</tspan></text></g>
<g id="ET"><rect x="1853.5" y="745.7" width="128.9" height="37.1"/><text x="1917.9" y="756.2">entropy = 0.0000<tspan x="1917.9" dy="10.25">samples = 1</tspan><tspan x="1917.9" dy="10.25">value = [ 0.          1.84227537]</tspan></text></g>
<g id="EU"><rect x="1995.5" y="745.7" width="129.4" height="37.1"/><text x="2060.2" y="756.2">entropy = -0.0000<tspan x="2060.2" dy="10.25">samples = 1</tspan><tspan x="2060.2" dy="10.25">value = [ 0.15772463  0.        ]</tspan></text></g>
<g id="EV"><rect x="2564" y="745.7" width="136.3" height="37.1"/><text x="2632.2" y="756.2">entropy = 0.0000<tspan x="2632.2" dy="10.25">samples = 4</tspan><tspan x="2632.2" dy="10.25">value = [  0.          11.05365223]</tspan></text></g>
<g id="EW"><rect x="2713.4" y="745.7" width="129.4" height="37.1"/><text x="2778.1" y="756.2">entropy = -0.0000<tspan x="2778.1" dy="10.25">samples = 1</tspan><tspan x="2778.1" dy="10.25">value = [ 0.15772463  0.        ]</tspan></text></g>
<g id="EX"><rect x="2855.9" y="745.7" width="115.4" height="37.1"/><text x="2913.6" y="756.2">X[6] &lt;= 2.6102<tspan x="2913.6" dy="10.25">entropy = 0.819256724815</tspan><tspan x="2913.6" dy="10.25">samples = 7</tspan></text></g>
<g id="EY"><rect x="2984.8" y="745.7" width="129.5" height="37.1"/><text x="3049.6" y="756.2">entropy = 0.0000<tspan x="3049.6" dy="10.25">samples = 12</tspan><tspan x="3049.6" dy="10.25">value = [ 3.78539108  0.        ]</tspan></text></g>
<g id="EZ"><rect x="3127.4" y="745.7" width="128.9" height="37.1"/><text x="3191.8" y="756.2">entropy = 0.0000<tspan x="3191.8" dy="10.25">samples = 4</tspan><tspan x="3191.8" dy="10.25">value = [ 0.          9.21137686]</tspan></text></g>
<g id="FA"><rect x="3269.4" y="745.7" width="115.9" height="37.1"/><text x="3327.3" y="756.2">X[2] &lt;= 5.6042<tspan x="3327.3" dy="10.25">entropy = 0.795351166887</tspan><tspan x="3327.3" dy="10.25">samples = 38</tspan></text></g>
<g id="FB"><rect x="359.2" y="807.6" width="129" height="37.1"/><text x="423.7" y="818.1">entropy = 0.0000<tspan x="423.7" dy="10.25">samples = 2</tspan><tspan x="423.7" dy="10.25">value = [ 0.          3.68455074]</tspan></text></g>
<g id="FC"><rect x="501.2" y="807.6" width="127.9" height="37.1"/><text x="565.2" y="818.1">entropy = -0.0000<tspan x="565.2" dy="10.25">samples = 2</tspan><tspan x="565.2" dy="10.25">value = [ 0.31544926  0.        ]</tspan></text></g>
<g id="FD"><rect x="662.5" y="807.6" width="129.5" height="37.1"/><text x="727.3" y="818.1">entropy = 0.0000<tspan x="727.3" dy="10.25">samples = 3</tspan><tspan x="727.3" dy="10.25">value = [ 0.          9.21137686]</tspan></text></g>
<g id="FE"><rect x="804.6" y="807.6" width="129.4" height="37.1"/><text x="869.3" y="818.1">entropy = -0.0000<tspan x="869.3" dy="10.25">samples = 1</tspan><tspan x="869.3" dy="10.25">value = [ 0.15772463  0.        ]</tspan></text></g>
<g id="FF"><rect x="1001.4" y="807.6" width="128.4" height="37.1"/><text x="1065.6" y="818.1">entropy = 0.0000<tspan x="1065.6" dy="10.25">samples = 1</tspan><tspan x="1065.6" dy="10.25">value = [ 0.          1.84227537]</tspan></text></g>
<g id="FG"><rect x="1142.9" y="807.6" width="128.9" height="37.1"/><text x="1207.3" y="818.1">entropy = 0.0000<tspan x="1207.3" dy="10.25">samples = 2</tspan><tspan x="1207.3" dy="10.25">value = [ 0.47317388  0.        ]</tspan></text></g>
<g id="FH"><rect x="2778.1" y="807.6" width="128.9" height="37.1"/><text x="2842.6" y="818.1">entropy = 0.0000<tspan x="2842.6" dy="10.25">samples = 5</tspan><tspan x="2842.6" dy="10.25">value = [ 1.26179703  0.        ]</tspan></text></g>
<g id="FI"><rect x="2920.1" y="807.6" width="129" height="37.1"/><text x="2984.6" y="818.1">entropy = 0.0000<tspan x="2984.6" dy="10.25">samples = 2</tspan><tspan x="2984.6" dy="10.25">value = [ 0.          3.68455074]</tspan></text></g>
<g id="FJ"><rect x="3201.5" y="807.6" width="115.9" height="37.1"/><text x="3259.5" y="818.1">X[8] &lt;= 153.9577<tspan x="3259.5" dy="10.25">entropy = 0.646082714004</tspan><tspan x="3259.5" dy="10.25">samples = 25</tspan></text></g>
<g id="FK"><rect x="3330.5" y="807.6" width="128.9" height="37.1"/><text x="3395" y="818.1">entropy = -0.0000<tspan x="3395" dy="10.25">samples = 13</tspan><tspan x="3395" dy="10.25">value = [ 2.83904331  0.        ]</tspan></text></g>
<g id="FL"><rect x="3133.1" y="869.5" width="115.9" height="37.1"/><text x="3191.1" y="880">X[6] &lt;= 4.0154<tspan x="3191.1" dy="10.25">entropy = 0.547900192175</tspan><tspan x="3191.1" dy="10.25">samples = 21</tspan></text></g>
<g id="FM"><rect x="3263.1" y="869.5" width="128.5" height="37.1"/><text x="3327.4" y="880">entropy = -0.0000<tspan x="3327.4" dy="10.25">samples = 4</tspan><tspan x="3327.4" dy="10.25">value = [ 1.26179703  0.        ]</tspan></text></g>
<g id="FN"><rect x="3064.2" y="931.4" width="115.4" height="37.1"/><text x="3121.9" y="941.9">X[0] &lt;= 1.4436<tspan x="3121.9" dy="10.25">entropy = 0.940613196696</tspan><tspan x="3121.9" dy="10.25">samples = 10</tspan></text></g>
<g id="FO"><rect x="3201.5" y="931.4" width="116.4" height="37.1"/><text x="3259.7" y="941.9">X[6] &lt;= 7.0044<tspan x="3259.7" dy="10.25">entropy = 0.348757165579</tspan><tspan x="3259.7" dy="10.25">samples = 11</tspan></text></g>
<g id="FP"><rect x="2915.4" y="993.3" width="129.5" height="37.1"/><text x="2980.2" y="1003.8">entropy = 0.0000<tspan x="2980.2" dy="10.25">samples = 9</tspan><tspan x="2980.2" dy="10.25">value = [ 2.05042017  0.        ]</tspan></text></g>
<g id="FQ"><rect x="3057.4" y="993.3" width="129" height="37.1"/><text x="3121.9" y="1003.8">entropy = 0.0000<tspan x="3121.9" dy="10.25">samples = 1</tspan><tspan x="3121.9" dy="10.25">value = [ 0.          3.68455074]</tspan></text></g>
<g id="FR"><rect x="3199.9" y="993.3" width="120.1" height="37.1"/><text x="3260" y="1003.8">X[5] &lt;= 5.4112<tspan x="3260" dy="10.25">entropy = 0.0705989705264</tspan><tspan x="3260" dy="10.25">samples = 6</tspan></text></g>
<g id="FS"><rect x="3348.8" y="993.3" width="115.3" height="37.1"/><text x="3406.5" y="1003.8">X[7] &lt;= 11.2600<tspan x="3406.5" dy="10.25">entropy = 0.974624610315</tspan><tspan x="3406.5" dy="10.25">samples = 5</tspan></text></g>
<g id="FT"><rect x="3062.1" y="1055.3" width="116.4" height="37.1"/><text x="3120.3" y="1065.8">X[2] &lt;= 4.1406<tspan x="3120.3" dy="10.25">entropy = 0.398157742731</tspan><tspan x="3120.3" dy="10.25">samples = 2</tspan></text></g>
<g id="FU"><rect x="3191.1" y="1055.3" width="136.8" height="37.1"/><text x="3259.5" y="1065.8">entropy = 0.0000<tspan x="3259.5" dy="10.25">samples = 4</tspan><tspan x="3259.5" dy="10.25">value = [  0.          16.58047835]</tspan></text></g>
<g id="FV"><rect x="3341.4" y="1055.3" width="129.5" height="37.1"/><text x="3406.2" y="1065.8">entropy = 0.0000<tspan x="3406.2" dy="10.25">samples = 1</tspan><tspan x="3406.2" dy="10.25">value = [ 0.          1.84227537]</tspan></text></g>
<g id="FW"><rect x="3483.4" y="1055.3" width="129.5" height="37.1"/><text x="3548.2" y="1065.8">entropy = -0.0000<tspan x="3548.2" dy="10.25">samples = 4</tspan><tspan x="3548.2" dy="10.25">value = [ 1.26179703  0.        ]</tspan></text></g>
<g id="FX"><rect x="2984.8" y="1117.2" width="128.5" height="37.1"/><text x="3049.1" y="1127.7">entropy = 0.0000<tspan x="3049.1" dy="10.25">samples = 1</tspan><tspan x="3049.1" dy="10.25">value = [ 0.          1.84227537]</tspan></text></g>
<g id="FY"><rect x="3126.9" y="1117.2" width="129.4" height="37.1"/><text x="3191.6" y="1127.7">entropy = -0.0000<tspan x="3191.6" dy="10.25">samples = 1</tspan><tspan x="3191.6" dy="10.25">value = [ 0.15772463  0.        ]</tspan></text></g>
</g>
</svg>
